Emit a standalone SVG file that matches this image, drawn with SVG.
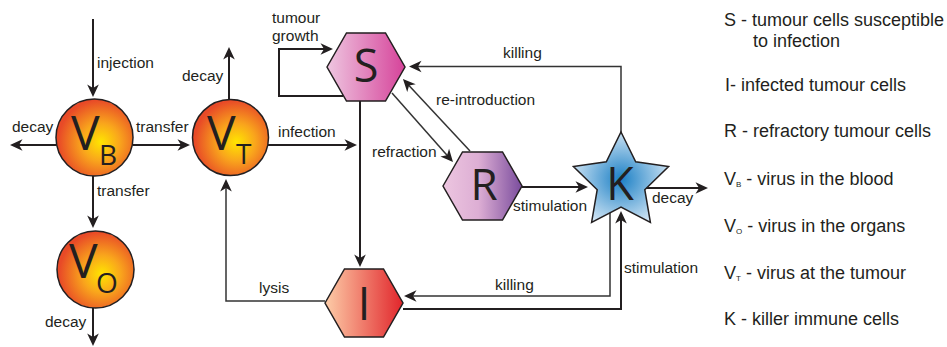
<svg xmlns="http://www.w3.org/2000/svg" width="947" height="347" viewBox="0 0 947 347">
<style>
.ln{fill:none;stroke:#231F20;stroke-width:2}
.thin{fill:none;stroke:#333;stroke-width:1.5}
.lab{font-family:"Liberation Sans",Arial,sans-serif;font-size:15.5px;fill:#231F20}
.leg{font-family:"Liberation Sans",Arial,sans-serif;font-size:18px;fill:#231F20}
.big{font-family:"Open Sans","Noto Sans",sans-serif;fill:#231F20}
.shape{stroke:#231F20;stroke-width:1.5}
</style>
<defs>
<marker id="arr" markerUnits="userSpaceOnUse" markerWidth="16" markerHeight="14" viewBox="-10 -7 16 14" refX="0" refY="0" orient="auto">
<path d="M3,0 L-9.5,-5.8 L-6,0 L-9.5,5.8 Z" fill="#231F20"/>
</marker>
<radialGradient id="gV" cx="0.58" cy="0.56" r="0.55">
<stop offset="0" stop-color="#FFE500"/>
<stop offset="0.45" stop-color="#F9A51C"/>
<stop offset="1" stop-color="#E84A27"/>
</radialGradient>
<linearGradient id="gS" x1="0" y1="0" x2="1" y2="0">
<stop offset="0" stop-color="#EEC6E0"/>
<stop offset="1" stop-color="#D6439A"/>
</linearGradient>
<linearGradient id="gR" x1="0" y1="0" x2="1" y2="0">
<stop offset="0" stop-color="#EDC6E0"/>
<stop offset="0.45" stop-color="#DDAED4"/>
<stop offset="1" stop-color="#7A4C9D"/>
</linearGradient>
<linearGradient id="gI" x1="0" y1="0" x2="1" y2="0">
<stop offset="0" stop-color="#FDCDA8"/>
<stop offset="1" stop-color="#E1252B"/>
</linearGradient>
<radialGradient id="gK" cx="0.5" cy="0.52" r="0.55">
<stop offset="0" stop-color="#1C80C5"/>
<stop offset="1" stop-color="#D6E8F6"/>
</radialGradient>
</defs>

<g id="connectors">
<path class="ln" d="M93,19 V94" marker-end="url(#arr)"/>
<path class="ln" d="M56,145 H13" marker-end="url(#arr)"/>
<path class="ln" d="M133,145 H187" marker-end="url(#arr)"/>
<path class="ln" d="M93,176 V225" marker-end="url(#arr)"/>
<path class="ln" d="M93,308 V343" marker-end="url(#arr)"/>
<path class="ln" d="M229,99 V50" marker-end="url(#arr)"/>
<path class="ln" d="M268,145 H354" marker-end="url(#arr)"/>
<path class="ln" d="M343,96 H279 V49 H330" marker-end="url(#arr)"/>
<path class="ln" d="M360,101 V264" marker-end="url(#arr)"/>
<path class="thin" d="M392,93 L451,159.8" marker-end="url(#arr)"/>
<path class="thin" d="M470,151 L405,81.2" marker-end="url(#arr)"/>
<path class="thin" d="M621,133 V66.5 H412" marker-end="url(#arr)"/>
<path class="ln" d="M522,187 H585" marker-end="url(#arr)"/>
<path class="ln" d="M646,188 H705" marker-end="url(#arr)"/>
<path class="thin" d="M610,212 V296 H407" marker-end="url(#arr)"/>
<path class="ln" d="M403,309 H621 V214" marker-end="url(#arr)"/>
<path class="thin" d="M325,301 H226 V182" marker-end="url(#arr)"/>
<text class="lab" x="97" y="68">injection</text>
<text class="lab" x="12" y="132">decay</text>
<text class="lab" x="136" y="132">transfer</text>
<text class="lab" x="182" y="81">decay</text>
<text class="lab" x="97" y="196">transfer</text>
<text class="lab" x="45" y="327">decay</text>
<text class="lab" x="259" y="293">lysis</text>
<text class="lab" x="272" y="23">tumour</text>
<text class="lab" x="272" y="41">growth</text>
<text class="lab" x="278" y="137">infection</text>
<text class="lab" x="503" y="58">killing</text>
<text class="lab" x="436" y="105">re-introduction</text>
<text class="lab" x="372" y="157">refraction</text>
<text class="lab" x="513" y="211">stimulation</text>
<text class="lab" x="652" y="203">decay</text>
<text class="lab" x="495" y="290">killing</text>
<text class="lab" x="624" y="273">stimulation</text>
</g>

<g id="node-VB">
<circle class="shape" cx="94.5" cy="137.5" r="38.5" fill="url(#gV)"/>
<text class="big" x="71" y="150" font-size="48">V</text>
<text class="big" x="99" y="165" font-size="28">B</text>
</g>
<g id="node-VT">
<circle class="shape" cx="230.5" cy="137.5" r="38" fill="url(#gV)"/>
<text class="big" x="207" y="150" font-size="48">V</text>
<text class="big" x="236" y="164" font-size="28">T</text>
</g>
<g id="node-VO">
<circle class="shape" cx="95.5" cy="269.5" r="38.5" fill="url(#gV)"/>
<text class="big" x="69" y="278" font-size="48">V</text>
<text class="big" x="96" y="293" font-size="28">O</text>
</g>
<g id="node-S">
<polygon class="shape" points="327,67 346.5,33 385.5,33 405,67 385.5,101 346.5,101" fill="url(#gS)"/>
<text class="big" x="366" y="82" font-size="45" text-anchor="middle">S</text>
</g>
<g id="node-R">
<polygon class="shape" points="443,186 462.5,152 502.5,152 522,186 502.5,220 462.5,220" fill="url(#gR)"/>
<text class="big" x="484" y="200" font-size="44" text-anchor="middle">R</text>
</g>
<g id="node-I">
<polygon class="shape" points="325,303 344.5,269 383.5,269 403,303 383.5,337 344.5,337" fill="url(#gI)"/>
<text class="big" x="364" y="320" font-size="45" text-anchor="middle">I</text>
</g>
<g id="node-K">
<polygon class="shape" points="621,132 635.7,161.8 668.6,166.5 644.8,189.7 650.4,222.4 621,207 591.6,222.4 597.2,189.7 573.4,166.5 606.3,161.8" fill="url(#gK)"/>
<text class="big" x="620" y="200" font-size="45" text-anchor="middle">K</text>
</g>

<g id="legend">
<text class="leg" x="724" y="26">S - tumour cells susceptible</text>
<text class="leg" x="753" y="47">to infection</text>
<text class="leg" x="725" y="91">I- infected tumour cells</text>
<text class="leg" x="724" y="137">R - refractory tumour cells</text>
<text class="leg" x="724" y="185">V<tspan font-size="8" dy="2">B</tspan><tspan dy="-2"> - virus in the blood</tspan></text>
<text class="leg" x="724" y="232">V<tspan font-size="8" dy="2">O</tspan><tspan dy="-2"> - virus in the organs</tspan></text>
<text class="leg" x="724" y="279">V<tspan font-size="8" dy="2">T</tspan><tspan dy="-2"> - virus at the tumour</tspan></text>
<text class="leg" x="724" y="325">K - killer immune cells</text>
</g>
</svg>
